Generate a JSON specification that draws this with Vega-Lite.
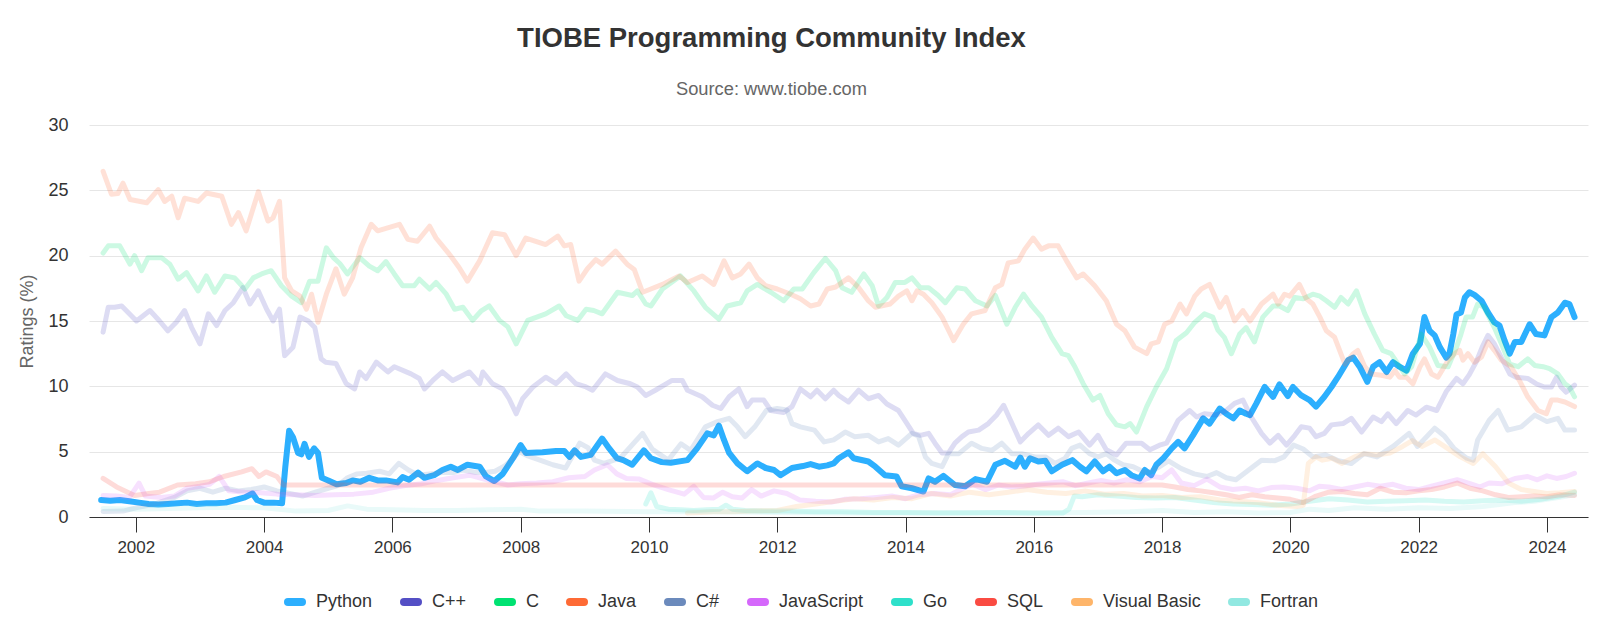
{
"$schema": "https://vega.github.io/schema/vega-lite/v6.json",
"width": 1499,
"height": 392,
"autosize": {"type": "none"},
"padding": {"left": 89, "top": 125, "right": 12, "bottom": 125},
"background": "white",
"config": {"view": {"stroke": null}, "font": "Liberation Sans"},
"title": {"text": "TIOBE Programming Community Index", "subtitle": "Source: www.tiobe.com", "anchor": "middle", "frame": "group", "dx": -67, "offset": 18, "fontSize": 27.5, "fontWeight": "bold", "color": "#333333", "font": "Liberation Sans", "subtitleFont": "Liberation Sans", "subtitleFontSize": 18.3, "subtitleColor": "#666666", "subtitlePadding": 28},
"datasets": {
"python": [
{"lang":"Python","year":2001.46,"pct":1.3},{"lang":"Python","year":2001.6,"pct":1.25},{"lang":"Python","year":2001.75,"pct":1.3},{"lang":"Python","year":2001.9,"pct":1.2},{"lang":"Python","year":2002.05,"pct":1.1},{"lang":"Python","year":2002.2,"pct":1.0},{"lang":"Python","year":2002.35,"pct":0.95},{"lang":"Python","year":2002.5,"pct":1.0},{"lang":"Python","year":2002.65,"pct":1.05},{"lang":"Python","year":2002.8,"pct":1.1},{"lang":"Python","year":2002.95,"pct":1.0},{"lang":"Python","year":2003.1,"pct":1.05},{"lang":"Python","year":2003.25,"pct":1.05},{"lang":"Python","year":2003.4,"pct":1.1},{"lang":"Python","year":2003.55,"pct":1.3},{"lang":"Python","year":2003.7,"pct":1.5},{"lang":"Python","year":2003.82,"pct":1.8},{"lang":"Python","year":2003.89,"pct":1.3},{"lang":"Python","year":2004.0,"pct":1.1},{"lang":"Python","year":2004.15,"pct":1.1},{"lang":"Python","year":2004.28,"pct":1.05},{"lang":"Python","year":2004.33,"pct":3.8},{"lang":"Python","year":2004.39,"pct":6.6},{"lang":"Python","year":2004.45,"pct":6.1},{"lang":"Python","year":2004.53,"pct":4.9},{"lang":"Python","year":2004.58,"pct":4.8},{"lang":"Python","year":2004.63,"pct":5.6},{"lang":"Python","year":2004.7,"pct":4.6},{"lang":"Python","year":2004.78,"pct":5.25},{"lang":"Python","year":2004.84,"pct":4.9},{"lang":"Python","year":2004.9,"pct":3.0},{"lang":"Python","year":2005.0,"pct":2.8},{"lang":"Python","year":2005.13,"pct":2.5},{"lang":"Python","year":2005.28,"pct":2.6},{"lang":"Python","year":2005.38,"pct":2.8},{"lang":"Python","year":2005.5,"pct":2.7},{"lang":"Python","year":2005.64,"pct":3.0},{"lang":"Python","year":2005.77,"pct":2.8},{"lang":"Python","year":2005.9,"pct":2.8},{"lang":"Python","year":2006.08,"pct":2.65},{"lang":"Python","year":2006.16,"pct":3.05},{"lang":"Python","year":2006.26,"pct":2.85},{"lang":"Python","year":2006.4,"pct":3.4},{"lang":"Python","year":2006.5,"pct":3.0},{"lang":"Python","year":2006.65,"pct":3.2},{"lang":"Python","year":2006.78,"pct":3.6},{"lang":"Python","year":2006.91,"pct":3.85},{"lang":"Python","year":2007.02,"pct":3.6},{"lang":"Python","year":2007.17,"pct":4.0},{"lang":"Python","year":2007.36,"pct":3.85},{"lang":"Python","year":2007.46,"pct":3.1},{"lang":"Python","year":2007.59,"pct":2.75},{"lang":"Python","year":2007.72,"pct":3.3},{"lang":"Python","year":2007.88,"pct":4.5},{"lang":"Python","year":2008.0,"pct":5.5},{"lang":"Python","year":2008.08,"pct":4.9},{"lang":"Python","year":2008.34,"pct":4.95},{"lang":"Python","year":2008.55,"pct":5.05},{"lang":"Python","year":2008.68,"pct":5.05},{"lang":"Python","year":2008.76,"pct":4.6},{"lang":"Python","year":2008.84,"pct":5.1},{"lang":"Python","year":2008.94,"pct":4.6},{"lang":"Python","year":2009.09,"pct":4.75},{"lang":"Python","year":2009.27,"pct":6.0},{"lang":"Python","year":2009.38,"pct":5.25},{"lang":"Python","year":2009.5,"pct":4.5},{"lang":"Python","year":2009.6,"pct":4.35},{"lang":"Python","year":2009.74,"pct":4.0},{"lang":"Python","year":2009.92,"pct":5.1},{"lang":"Python","year":2010.03,"pct":4.5},{"lang":"Python","year":2010.2,"pct":4.2},{"lang":"Python","year":2010.34,"pct":4.15},{"lang":"Python","year":2010.6,"pct":4.35},{"lang":"Python","year":2010.75,"pct":5.25},{"lang":"Python","year":2010.91,"pct":6.4},{"lang":"Python","year":2011.01,"pct":6.25},{"lang":"Python","year":2011.09,"pct":7.0},{"lang":"Python","year":2011.17,"pct":5.9},{"lang":"Python","year":2011.25,"pct":4.9},{"lang":"Python","year":2011.38,"pct":4.1},{"lang":"Python","year":2011.53,"pct":3.5},{"lang":"Python","year":2011.69,"pct":4.1},{"lang":"Python","year":2011.82,"pct":3.75},{"lang":"Python","year":2011.95,"pct":3.6},{"lang":"Python","year":2012.05,"pct":3.2},{"lang":"Python","year":2012.23,"pct":3.75},{"lang":"Python","year":2012.4,"pct":3.9},{"lang":"Python","year":2012.52,"pct":4.05},{"lang":"Python","year":2012.65,"pct":3.85},{"lang":"Python","year":2012.78,"pct":3.95},{"lang":"Python","year":2012.88,"pct":4.1},{"lang":"Python","year":2012.96,"pct":4.5},{"lang":"Python","year":2013.11,"pct":4.95},{"lang":"Python","year":2013.19,"pct":4.5},{"lang":"Python","year":2013.42,"pct":4.25},{"lang":"Python","year":2013.53,"pct":3.85},{"lang":"Python","year":2013.68,"pct":3.2},{"lang":"Python","year":2013.86,"pct":3.1},{"lang":"Python","year":2013.94,"pct":2.35},{"lang":"Python","year":2014.1,"pct":2.2},{"lang":"Python","year":2014.28,"pct":1.95},{"lang":"Python","year":2014.36,"pct":2.95},{"lang":"Python","year":2014.46,"pct":2.7},{"lang":"Python","year":2014.59,"pct":3.15},{"lang":"Python","year":2014.77,"pct":2.45},{"lang":"Python","year":2014.93,"pct":2.35},{"lang":"Python","year":2015.09,"pct":2.9},{"lang":"Python","year":2015.27,"pct":2.7},{"lang":"Python","year":2015.4,"pct":4.0},{"lang":"Python","year":2015.55,"pct":4.3},{"lang":"Python","year":2015.71,"pct":3.85},{"lang":"Python","year":2015.79,"pct":4.55},{"lang":"Python","year":2015.86,"pct":3.85},{"lang":"Python","year":2015.94,"pct":4.5},{"lang":"Python","year":2016.07,"pct":4.25},{"lang":"Python","year":2016.18,"pct":4.3},{"lang":"Python","year":2016.28,"pct":3.5},{"lang":"Python","year":2016.44,"pct":4.0},{"lang":"Python","year":2016.6,"pct":4.35},{"lang":"Python","year":2016.72,"pct":3.85},{"lang":"Python","year":2016.82,"pct":3.5},{"lang":"Python","year":2016.95,"pct":4.25},{"lang":"Python","year":2017.08,"pct":3.5},{"lang":"Python","year":2017.18,"pct":3.85},{"lang":"Python","year":2017.29,"pct":3.35},{"lang":"Python","year":2017.42,"pct":3.6},{"lang":"Python","year":2017.52,"pct":3.2},{"lang":"Python","year":2017.65,"pct":2.95},{"lang":"Python","year":2017.73,"pct":3.6},{"lang":"Python","year":2017.83,"pct":3.2},{"lang":"Python","year":2017.91,"pct":4.0},{"lang":"Python","year":2018.02,"pct":4.5},{"lang":"Python","year":2018.15,"pct":5.25},{"lang":"Python","year":2018.25,"pct":5.75},{"lang":"Python","year":2018.35,"pct":5.25},{"lang":"Python","year":2018.48,"pct":6.25},{"lang":"Python","year":2018.64,"pct":7.55},{"lang":"Python","year":2018.74,"pct":7.15},{"lang":"Python","year":2018.9,"pct":8.3},{"lang":"Python","year":2019.0,"pct":7.9},{"lang":"Python","year":2019.11,"pct":7.55},{"lang":"Python","year":2019.21,"pct":8.15},{"lang":"Python","year":2019.31,"pct":7.9},{"lang":"Python","year":2019.37,"pct":7.8},{"lang":"Python","year":2019.47,"pct":8.7},{"lang":"Python","year":2019.6,"pct":9.95},{"lang":"Python","year":2019.73,"pct":9.2},{"lang":"Python","year":2019.83,"pct":10.15},{"lang":"Python","year":2019.96,"pct":9.25},{"lang":"Python","year":2020.04,"pct":9.95},{"lang":"Python","year":2020.17,"pct":9.3},{"lang":"Python","year":2020.3,"pct":8.95},{"lang":"Python","year":2020.4,"pct":8.45},{"lang":"Python","year":2020.53,"pct":9.2},{"lang":"Python","year":2020.64,"pct":9.95},{"lang":"Python","year":2020.74,"pct":10.7},{"lang":"Python","year":2020.9,"pct":12.0},{"lang":"Python","year":2020.98,"pct":12.2},{"lang":"Python","year":2021.08,"pct":11.5},{"lang":"Python","year":2021.2,"pct":10.35},{"lang":"Python","year":2021.29,"pct":11.5},{"lang":"Python","year":2021.39,"pct":11.85},{"lang":"Python","year":2021.5,"pct":11.1},{"lang":"Python","year":2021.6,"pct":11.85},{"lang":"Python","year":2021.7,"pct":11.5},{"lang":"Python","year":2021.81,"pct":11.2},{"lang":"Python","year":2021.91,"pct":12.5},{"lang":"Python","year":2022.02,"pct":13.25},{"lang":"Python","year":2022.09,"pct":15.3},{"lang":"Python","year":2022.17,"pct":14.25},{"lang":"Python","year":2022.25,"pct":13.9},{"lang":"Python","year":2022.33,"pct":13.0},{"lang":"Python","year":2022.43,"pct":12.2},{"lang":"Python","year":2022.48,"pct":12.5},{"lang":"Python","year":2022.54,"pct":14.0},{"lang":"Python","year":2022.59,"pct":15.5},{"lang":"Python","year":2022.66,"pct":15.65},{"lang":"Python","year":2022.72,"pct":16.8},{"lang":"Python","year":2022.79,"pct":17.2},{"lang":"Python","year":2022.87,"pct":17.0},{"lang":"Python","year":2022.98,"pct":16.55},{"lang":"Python","year":2023.08,"pct":15.65},{"lang":"Python","year":2023.18,"pct":14.9},{"lang":"Python","year":2023.26,"pct":14.65},{"lang":"Python","year":2023.34,"pct":13.5},{"lang":"Python","year":2023.42,"pct":12.5},{"lang":"Python","year":2023.5,"pct":13.4},{"lang":"Python","year":2023.6,"pct":13.4},{"lang":"Python","year":2023.73,"pct":14.75},{"lang":"Python","year":2023.83,"pct":14.0},{"lang":"Python","year":2023.96,"pct":13.9},{"lang":"Python","year":2024.07,"pct":15.3},{"lang":"Python","year":2024.17,"pct":15.65},{"lang":"Python","year":2024.28,"pct":16.4},{"lang":"Python","year":2024.35,"pct":16.3},{"lang":"Python","year":2024.43,"pct":15.3}
],
"others": [
{"lang":"C++","year":2001.49,"pct":14.15},{"lang":"C++","year":2001.57,"pct":16.05},{"lang":"C++","year":2001.67,"pct":16.05},{"lang":"C++","year":2001.78,"pct":16.15},{"lang":"C++","year":2001.88,"pct":15.65},{"lang":"C++","year":2002.01,"pct":15.0},{"lang":"C++","year":2002.22,"pct":15.8},{"lang":"C++","year":2002.37,"pct":15.0},{"lang":"C++","year":2002.5,"pct":14.25},{"lang":"C++","year":2002.63,"pct":14.9},{"lang":"C++","year":2002.76,"pct":15.8},{"lang":"C++","year":2002.87,"pct":14.5},{"lang":"C++","year":2003.0,"pct":13.25},{"lang":"C++","year":2003.13,"pct":15.55},{"lang":"C++","year":2003.26,"pct":14.65},{"lang":"C++","year":2003.39,"pct":15.8},{"lang":"C++","year":2003.52,"pct":16.4},{"lang":"C++","year":2003.67,"pct":17.55},{"lang":"C++","year":2003.78,"pct":16.3},{"lang":"C++","year":2003.91,"pct":17.3},{"lang":"C++","year":2004.04,"pct":15.9},{"lang":"C++","year":2004.14,"pct":15.0},{"lang":"C++","year":2004.24,"pct":15.9},{"lang":"C++","year":2004.32,"pct":12.35},{"lang":"C++","year":2004.45,"pct":13.0},{"lang":"C++","year":2004.56,"pct":15.3},{"lang":"C++","year":2004.69,"pct":15.0},{"lang":"C++","year":2004.79,"pct":14.5},{"lang":"C++","year":2004.89,"pct":12.1},{"lang":"C++","year":2004.96,"pct":11.85},{"lang":"C++","year":2005.12,"pct":11.75},{"lang":"C++","year":2005.28,"pct":10.2},{"lang":"C++","year":2005.41,"pct":9.8},{"lang":"C++","year":2005.49,"pct":11.1},{"lang":"C++","year":2005.59,"pct":10.6},{"lang":"C++","year":2005.75,"pct":11.85},{"lang":"C++","year":2005.93,"pct":11.1},{"lang":"C++","year":2006.03,"pct":11.5},{"lang":"C++","year":2006.29,"pct":10.95},{"lang":"C++","year":2006.42,"pct":10.6},{"lang":"C++","year":2006.5,"pct":9.8},{"lang":"C++","year":2006.63,"pct":10.45},{"lang":"C++","year":2006.78,"pct":11.1},{"lang":"C++","year":2006.94,"pct":10.45},{"lang":"C++","year":2007.2,"pct":11.1},{"lang":"C++","year":2007.36,"pct":10.2},{"lang":"C++","year":2007.41,"pct":11.1},{"lang":"C++","year":2007.56,"pct":10.2},{"lang":"C++","year":2007.72,"pct":9.8},{"lang":"C++","year":2007.82,"pct":9.05},{"lang":"C++","year":2007.93,"pct":7.9},{"lang":"C++","year":2008.03,"pct":9.05},{"lang":"C++","year":2008.19,"pct":9.95},{"lang":"C++","year":2008.39,"pct":10.7},{"lang":"C++","year":2008.55,"pct":10.2},{"lang":"C++","year":2008.71,"pct":10.95},{"lang":"C++","year":2008.86,"pct":10.2},{"lang":"C++","year":2009.02,"pct":9.95},{"lang":"C++","year":2009.12,"pct":9.7},{"lang":"C++","year":2009.32,"pct":10.95},{"lang":"C++","year":2009.51,"pct":10.45},{"lang":"C++","year":2009.71,"pct":10.2},{"lang":"C++","year":2009.82,"pct":9.95},{"lang":"C++","year":2009.95,"pct":9.3},{"lang":"C++","year":2010.1,"pct":9.7},{"lang":"C++","year":2010.36,"pct":10.45},{"lang":"C++","year":2010.52,"pct":10.45},{"lang":"C++","year":2010.6,"pct":9.7},{"lang":"C++","year":2010.83,"pct":9.2},{"lang":"C++","year":2010.99,"pct":8.55},{"lang":"C++","year":2011.12,"pct":8.3},{"lang":"C++","year":2011.25,"pct":9.2},{"lang":"C++","year":2011.4,"pct":9.8},{"lang":"C++","year":2011.53,"pct":8.45},{"lang":"C++","year":2011.61,"pct":8.95},{"lang":"C++","year":2011.79,"pct":8.95},{"lang":"C++","year":2011.9,"pct":8.15},{"lang":"C++","year":2012.1,"pct":8.0},{"lang":"C++","year":2012.23,"pct":8.45},{"lang":"C++","year":2012.36,"pct":9.8},{"lang":"C++","year":2012.52,"pct":9.2},{"lang":"C++","year":2012.62,"pct":9.7},{"lang":"C++","year":2012.75,"pct":9.05},{"lang":"C++","year":2012.88,"pct":9.7},{"lang":"C++","year":2012.96,"pct":9.3},{"lang":"C++","year":2013.11,"pct":8.8},{"lang":"C++","year":2013.27,"pct":9.7},{"lang":"C++","year":2013.42,"pct":9.05},{"lang":"C++","year":2013.58,"pct":9.3},{"lang":"C++","year":2013.71,"pct":8.65},{"lang":"C++","year":2013.89,"pct":8.15},{"lang":"C++","year":2013.99,"pct":7.4},{"lang":"C++","year":2014.12,"pct":6.4},{"lang":"C++","year":2014.23,"pct":6.25},{"lang":"C++","year":2014.36,"pct":6.4},{"lang":"C++","year":2014.46,"pct":5.65},{"lang":"C++","year":2014.57,"pct":4.9},{"lang":"C++","year":2014.67,"pct":4.9},{"lang":"C++","year":2014.77,"pct":5.65},{"lang":"C++","year":2014.88,"pct":6.15},{"lang":"C++","year":2014.98,"pct":6.5},{"lang":"C++","year":2015.14,"pct":6.65},{"lang":"C++","year":2015.29,"pct":7.15},{"lang":"C++","year":2015.42,"pct":7.8},{"lang":"C++","year":2015.53,"pct":8.55},{"lang":"C++","year":2015.66,"pct":7.15},{"lang":"C++","year":2015.79,"pct":5.75},{"lang":"C++","year":2015.92,"pct":6.4},{"lang":"C++","year":2016.07,"pct":7.05},{"lang":"C++","year":2016.23,"pct":6.25},{"lang":"C++","year":2016.38,"pct":6.8},{"lang":"C++","year":2016.54,"pct":6.15},{"lang":"C++","year":2016.7,"pct":6.5},{"lang":"C++","year":2016.87,"pct":5.5},{"lang":"C++","year":2017.0,"pct":6.25},{"lang":"C++","year":2017.13,"pct":5.15},{"lang":"C++","year":2017.29,"pct":4.75},{"lang":"C++","year":2017.44,"pct":5.65},{"lang":"C++","year":2017.68,"pct":5.65},{"lang":"C++","year":2017.81,"pct":5.15},{"lang":"C++","year":2017.96,"pct":5.5},{"lang":"C++","year":2018.07,"pct":5.65},{"lang":"C++","year":2018.25,"pct":7.4},{"lang":"C++","year":2018.43,"pct":8.15},{"lang":"C++","year":2018.54,"pct":7.65},{"lang":"C++","year":2018.66,"pct":7.9},{"lang":"C++","year":2018.85,"pct":7.8},{"lang":"C++","year":2019.0,"pct":8.15},{"lang":"C++","year":2019.13,"pct":8.7},{"lang":"C++","year":2019.26,"pct":8.95},{"lang":"C++","year":2019.39,"pct":7.65},{"lang":"C++","year":2019.55,"pct":6.4},{"lang":"C++","year":2019.68,"pct":5.65},{"lang":"C++","year":2019.81,"pct":6.25},{"lang":"C++","year":2019.94,"pct":5.5},{"lang":"C++","year":2020.07,"pct":6.25},{"lang":"C++","year":2020.17,"pct":6.9},{"lang":"C++","year":2020.3,"pct":6.8},{"lang":"C++","year":2020.4,"pct":6.15},{"lang":"C++","year":2020.53,"pct":6.4},{"lang":"C++","year":2020.64,"pct":7.05},{"lang":"C++","year":2020.82,"pct":7.15},{"lang":"C++","year":2020.95,"pct":7.55},{"lang":"C++","year":2021.11,"pct":6.5},{"lang":"C++","year":2021.29,"pct":7.65},{"lang":"C++","year":2021.42,"pct":7.3},{"lang":"C++","year":2021.52,"pct":7.9},{"lang":"C++","year":2021.65,"pct":7.15},{"lang":"C++","year":2021.83,"pct":8.15},{"lang":"C++","year":2021.96,"pct":7.8},{"lang":"C++","year":2022.12,"pct":8.4},{"lang":"C++","year":2022.28,"pct":8.15},{"lang":"C++","year":2022.43,"pct":9.6},{"lang":"C++","year":2022.59,"pct":10.6},{"lang":"C++","year":2022.69,"pct":10.2},{"lang":"C++","year":2022.79,"pct":10.9},{"lang":"C++","year":2022.9,"pct":11.9},{"lang":"C++","year":2022.99,"pct":13.0},{"lang":"C++","year":2023.08,"pct":13.9},{"lang":"C++","year":2023.18,"pct":13.25},{"lang":"C++","year":2023.31,"pct":12.0},{"lang":"C++","year":2023.42,"pct":10.95},{"lang":"C++","year":2023.52,"pct":10.7},{"lang":"C++","year":2023.7,"pct":10.6},{"lang":"C++","year":2023.83,"pct":10.2},{"lang":"C++","year":2023.96,"pct":9.95},{"lang":"C++","year":2024.07,"pct":9.95},{"lang":"C++","year":2024.15,"pct":10.7},{"lang":"C++","year":2024.22,"pct":9.95},{"lang":"C++","year":2024.3,"pct":9.55},{"lang":"C++","year":2024.43,"pct":10.1},
{"lang":"C","year":2001.49,"pct":20.2},{"lang":"C","year":2001.57,"pct":20.75},{"lang":"C","year":2001.75,"pct":20.75},{"lang":"C","year":2001.91,"pct":19.35},{"lang":"C","year":2001.98,"pct":20.0},{"lang":"C","year":2002.09,"pct":18.85},{"lang":"C","year":2002.19,"pct":19.85},{"lang":"C","year":2002.4,"pct":19.85},{"lang":"C","year":2002.53,"pct":19.35},{"lang":"C","year":2002.66,"pct":18.2},{"lang":"C","year":2002.79,"pct":18.7},{"lang":"C","year":2002.97,"pct":17.3},{"lang":"C","year":2003.1,"pct":18.45},{"lang":"C","year":2003.23,"pct":17.2},{"lang":"C","year":2003.39,"pct":18.45},{"lang":"C","year":2003.54,"pct":18.3},{"lang":"C","year":2003.7,"pct":17.45},{"lang":"C","year":2003.83,"pct":18.3},{"lang":"C","year":2003.96,"pct":18.6},{"lang":"C","year":2004.11,"pct":18.85},{"lang":"C","year":2004.27,"pct":17.7},{"lang":"C","year":2004.43,"pct":16.9},{"lang":"C","year":2004.58,"pct":16.4},{"lang":"C","year":2004.71,"pct":18.05},{"lang":"C","year":2004.84,"pct":18.05},{"lang":"C","year":2004.97,"pct":20.6},{"lang":"C","year":2005.08,"pct":19.85},{"lang":"C","year":2005.18,"pct":19.4},{"lang":"C","year":2005.3,"pct":18.6},{"lang":"C","year":2005.49,"pct":19.85},{"lang":"C","year":2005.64,"pct":19.2},{"lang":"C","year":2005.77,"pct":18.85},{"lang":"C","year":2005.9,"pct":19.55},{"lang":"C","year":2006.03,"pct":18.6},{"lang":"C","year":2006.16,"pct":17.7},{"lang":"C","year":2006.34,"pct":17.7},{"lang":"C","year":2006.42,"pct":18.2},{"lang":"C","year":2006.58,"pct":17.45},{"lang":"C","year":2006.68,"pct":17.95},{"lang":"C","year":2006.84,"pct":17.05},{"lang":"C","year":2006.97,"pct":15.9},{"lang":"C","year":2007.1,"pct":16.05},{"lang":"C","year":2007.25,"pct":15.05},{"lang":"C","year":2007.38,"pct":15.75},{"lang":"C","year":2007.51,"pct":16.15},{"lang":"C","year":2007.67,"pct":15.05},{"lang":"C","year":2007.8,"pct":14.55},{"lang":"C","year":2007.93,"pct":13.25},{"lang":"C","year":2008.11,"pct":15.05},{"lang":"C","year":2008.39,"pct":15.55},{"lang":"C","year":2008.6,"pct":16.15},{"lang":"C","year":2008.71,"pct":15.4},{"lang":"C","year":2008.89,"pct":15.05},{"lang":"C","year":2009.02,"pct":15.9},{"lang":"C","year":2009.14,"pct":15.8},{"lang":"C","year":2009.27,"pct":15.55},{"lang":"C","year":2009.51,"pct":17.2},{"lang":"C","year":2009.74,"pct":16.95},{"lang":"C","year":2009.82,"pct":17.3},{"lang":"C","year":2009.95,"pct":16.3},{"lang":"C","year":2010.03,"pct":16.15},{"lang":"C","year":2010.21,"pct":17.45},{"lang":"C","year":2010.49,"pct":18.45},{"lang":"C","year":2010.7,"pct":17.3},{"lang":"C","year":2010.88,"pct":16.05},{"lang":"C","year":2011.09,"pct":15.15},{"lang":"C","year":2011.22,"pct":16.15},{"lang":"C","year":2011.43,"pct":16.4},{"lang":"C","year":2011.53,"pct":17.3},{"lang":"C","year":2011.69,"pct":17.8},{"lang":"C","year":2011.9,"pct":17.2},{"lang":"C","year":2012.1,"pct":16.55},{"lang":"C","year":2012.26,"pct":17.45},{"lang":"C","year":2012.39,"pct":17.45},{"lang":"C","year":2012.57,"pct":18.7},{"lang":"C","year":2012.75,"pct":19.8},{"lang":"C","year":2012.91,"pct":18.85},{"lang":"C","year":2013.01,"pct":17.55},{"lang":"C","year":2013.16,"pct":17.2},{"lang":"C","year":2013.35,"pct":18.6},{"lang":"C","year":2013.48,"pct":17.7},{"lang":"C","year":2013.58,"pct":16.15},{"lang":"C","year":2013.71,"pct":16.8},{"lang":"C","year":2013.84,"pct":17.95},{"lang":"C","year":2013.99,"pct":17.95},{"lang":"C","year":2014.1,"pct":18.3},{"lang":"C","year":2014.23,"pct":17.55},{"lang":"C","year":2014.36,"pct":17.55},{"lang":"C","year":2014.51,"pct":16.95},{"lang":"C","year":2014.62,"pct":16.4},{"lang":"C","year":2014.8,"pct":17.55},{"lang":"C","year":2014.93,"pct":17.45},{"lang":"C","year":2015.09,"pct":16.55},{"lang":"C","year":2015.27,"pct":16.15},{"lang":"C","year":2015.4,"pct":16.95},{"lang":"C","year":2015.58,"pct":14.75},{"lang":"C","year":2015.71,"pct":16.05},{"lang":"C","year":2015.84,"pct":17.05},{"lang":"C","year":2015.97,"pct":16.15},{"lang":"C","year":2016.12,"pct":15.3},{"lang":"C","year":2016.28,"pct":13.75},{"lang":"C","year":2016.44,"pct":12.5},{"lang":"C","year":2016.54,"pct":12.35},{"lang":"C","year":2016.64,"pct":11.5},{"lang":"C","year":2016.77,"pct":10.2},{"lang":"C","year":2016.92,"pct":8.95},{"lang":"C","year":2017.03,"pct":9.3},{"lang":"C","year":2017.16,"pct":7.9},{"lang":"C","year":2017.29,"pct":7.05},{"lang":"C","year":2017.42,"pct":6.9},{"lang":"C","year":2017.5,"pct":7.15},{"lang":"C","year":2017.6,"pct":6.5},{"lang":"C","year":2017.76,"pct":8.45},{"lang":"C","year":2017.91,"pct":9.95},{"lang":"C","year":2018.07,"pct":11.35},{"lang":"C","year":2018.22,"pct":13.5},{"lang":"C","year":2018.38,"pct":14.1},{"lang":"C","year":2018.51,"pct":14.9},{"lang":"C","year":2018.66,"pct":15.55},{"lang":"C","year":2018.79,"pct":15.3},{"lang":"C","year":2018.87,"pct":14.3},{"lang":"C","year":2018.97,"pct":13.75},{"lang":"C","year":2019.08,"pct":12.5},{"lang":"C","year":2019.21,"pct":14.0},{"lang":"C","year":2019.31,"pct":14.5},{"lang":"C","year":2019.44,"pct":13.4},{"lang":"C","year":2019.57,"pct":15.3},{"lang":"C","year":2019.73,"pct":16.15},{"lang":"C","year":2019.83,"pct":16.15},{"lang":"C","year":2019.96,"pct":15.8},{"lang":"C","year":2020.07,"pct":16.8},{"lang":"C","year":2020.2,"pct":16.7},{"lang":"C","year":2020.35,"pct":17.05},{"lang":"C","year":2020.46,"pct":16.9},{"lang":"C","year":2020.56,"pct":16.55},{"lang":"C","year":2020.69,"pct":16.05},{"lang":"C","year":2020.79,"pct":16.8},{"lang":"C","year":2020.9,"pct":16.3},{"lang":"C","year":2021.03,"pct":17.3},{"lang":"C","year":2021.16,"pct":15.55},{"lang":"C","year":2021.31,"pct":14.0},{"lang":"C","year":2021.44,"pct":12.75},{"lang":"C","year":2021.57,"pct":12.5},{"lang":"C","year":2021.68,"pct":11.7},{"lang":"C","year":2021.78,"pct":10.95},{"lang":"C","year":2021.89,"pct":11.5},{"lang":"C","year":2022.04,"pct":14.0},{"lang":"C","year":2022.17,"pct":13.0},{"lang":"C","year":2022.3,"pct":11.6},{"lang":"C","year":2022.46,"pct":11.5},{"lang":"C","year":2022.59,"pct":13.0},{"lang":"C","year":2022.66,"pct":14.0},{"lang":"C","year":2022.74,"pct":15.3},{"lang":"C","year":2022.84,"pct":15.3},{"lang":"C","year":2022.92,"pct":16.3},{"lang":"C","year":2023.02,"pct":16.05},{"lang":"C","year":2023.18,"pct":14.5},{"lang":"C","year":2023.29,"pct":13.25},{"lang":"C","year":2023.42,"pct":11.7},{"lang":"C","year":2023.55,"pct":11.5},{"lang":"C","year":2023.7,"pct":12.1},{"lang":"C","year":2023.81,"pct":11.6},{"lang":"C","year":2023.94,"pct":11.5},{"lang":"C","year":2024.04,"pct":11.35},{"lang":"C","year":2024.17,"pct":10.95},{"lang":"C","year":2024.28,"pct":10.2},{"lang":"C","year":2024.35,"pct":9.95},{"lang":"C","year":2024.43,"pct":9.2},
{"lang":"Java","year":2001.49,"pct":26.45},{"lang":"Java","year":2001.62,"pct":24.7},{"lang":"Java","year":2001.72,"pct":24.75},{"lang":"Java","year":2001.8,"pct":25.55},{"lang":"Java","year":2001.91,"pct":24.3},{"lang":"Java","year":2002.17,"pct":24.05},{"lang":"Java","year":2002.35,"pct":25.05},{"lang":"Java","year":2002.45,"pct":24.15},{"lang":"Java","year":2002.56,"pct":24.55},{"lang":"Java","year":2002.66,"pct":22.9},{"lang":"Java","year":2002.76,"pct":24.4},{"lang":"Java","year":2002.97,"pct":24.15},{"lang":"Java","year":2003.1,"pct":24.8},{"lang":"Java","year":2003.34,"pct":24.55},{"lang":"Java","year":2003.49,"pct":22.4},{"lang":"Java","year":2003.6,"pct":23.3},{"lang":"Java","year":2003.72,"pct":21.9},{"lang":"Java","year":2003.91,"pct":24.9},{"lang":"Java","year":2004.06,"pct":22.65},{"lang":"Java","year":2004.14,"pct":22.9},{"lang":"Java","year":2004.24,"pct":24.15},{"lang":"Java","year":2004.32,"pct":18.3},{"lang":"Java","year":2004.43,"pct":17.3},{"lang":"Java","year":2004.56,"pct":16.9},{"lang":"Java","year":2004.66,"pct":15.9},{"lang":"Java","year":2004.74,"pct":17.05},{"lang":"Java","year":2004.84,"pct":14.9},{"lang":"Java","year":2004.97,"pct":17.05},{"lang":"Java","year":2005.12,"pct":19.0},{"lang":"Java","year":2005.25,"pct":17.05},{"lang":"Java","year":2005.38,"pct":18.3},{"lang":"Java","year":2005.51,"pct":20.6},{"lang":"Java","year":2005.67,"pct":22.4},{"lang":"Java","year":2005.77,"pct":21.9},{"lang":"Java","year":2006.11,"pct":22.4},{"lang":"Java","year":2006.24,"pct":21.25},{"lang":"Java","year":2006.39,"pct":21.1},{"lang":"Java","year":2006.58,"pct":22.25},{"lang":"Java","year":2006.68,"pct":21.35},{"lang":"Java","year":2006.89,"pct":20.1},{"lang":"Java","year":2007.04,"pct":19.1},{"lang":"Java","year":2007.17,"pct":18.05},{"lang":"Java","year":2007.36,"pct":19.6},{"lang":"Java","year":2007.56,"pct":21.75},{"lang":"Java","year":2007.75,"pct":21.6},{"lang":"Java","year":2007.93,"pct":20.0},{"lang":"Java","year":2008.08,"pct":21.35},{"lang":"Java","year":2008.39,"pct":20.85},{"lang":"Java","year":2008.58,"pct":21.5},{"lang":"Java","year":2008.68,"pct":20.75},{"lang":"Java","year":2008.78,"pct":20.85},{"lang":"Java","year":2008.91,"pct":18.05},{"lang":"Java","year":2009.04,"pct":19.0},{"lang":"Java","year":2009.17,"pct":19.7},{"lang":"Java","year":2009.27,"pct":19.35},{"lang":"Java","year":2009.48,"pct":20.35},{"lang":"Java","year":2009.66,"pct":19.35},{"lang":"Java","year":2009.77,"pct":18.95},{"lang":"Java","year":2009.9,"pct":17.2},{"lang":"Java","year":2010.03,"pct":17.45},{"lang":"Java","year":2010.21,"pct":17.8},{"lang":"Java","year":2010.47,"pct":18.45},{"lang":"Java","year":2010.6,"pct":17.95},{"lang":"Java","year":2010.83,"pct":18.45},{"lang":"Java","year":2011.01,"pct":17.8},{"lang":"Java","year":2011.17,"pct":19.6},{"lang":"Java","year":2011.3,"pct":18.3},{"lang":"Java","year":2011.43,"pct":18.6},{"lang":"Java","year":2011.56,"pct":19.35},{"lang":"Java","year":2011.69,"pct":18.3},{"lang":"Java","year":2011.82,"pct":17.7},{"lang":"Java","year":2012.0,"pct":17.45},{"lang":"Java","year":2012.21,"pct":17.05},{"lang":"Java","year":2012.36,"pct":16.7},{"lang":"Java","year":2012.52,"pct":16.15},{"lang":"Java","year":2012.65,"pct":16.3},{"lang":"Java","year":2012.78,"pct":17.45},{"lang":"Java","year":2012.91,"pct":17.6},{"lang":"Java","year":2013.11,"pct":18.3},{"lang":"Java","year":2013.27,"pct":17.55},{"lang":"Java","year":2013.42,"pct":16.55},{"lang":"Java","year":2013.53,"pct":16.05},{"lang":"Java","year":2013.76,"pct":16.3},{"lang":"Java","year":2013.89,"pct":16.9},{"lang":"Java","year":2014.02,"pct":17.3},{"lang":"Java","year":2014.1,"pct":16.55},{"lang":"Java","year":2014.18,"pct":17.3},{"lang":"Java","year":2014.28,"pct":17.05},{"lang":"Java","year":2014.41,"pct":16.4},{"lang":"Java","year":2014.57,"pct":15.3},{"lang":"Java","year":2014.75,"pct":13.5},{"lang":"Java","year":2014.9,"pct":14.75},{"lang":"Java","year":2015.03,"pct":15.55},{"lang":"Java","year":2015.24,"pct":15.8},{"lang":"Java","year":2015.4,"pct":17.55},{"lang":"Java","year":2015.5,"pct":17.8},{"lang":"Java","year":2015.6,"pct":19.45},{"lang":"Java","year":2015.76,"pct":19.6},{"lang":"Java","year":2015.86,"pct":20.5},{"lang":"Java","year":2015.99,"pct":21.35},{"lang":"Java","year":2016.12,"pct":20.5},{"lang":"Java","year":2016.23,"pct":20.75},{"lang":"Java","year":2016.38,"pct":20.75},{"lang":"Java","year":2016.51,"pct":19.6},{"lang":"Java","year":2016.67,"pct":18.3},{"lang":"Java","year":2016.77,"pct":18.6},{"lang":"Java","year":2016.95,"pct":17.7},{"lang":"Java","year":2017.13,"pct":16.55},{"lang":"Java","year":2017.29,"pct":14.75},{"lang":"Java","year":2017.42,"pct":14.25},{"lang":"Java","year":2017.57,"pct":13.0},{"lang":"Java","year":2017.76,"pct":12.5},{"lang":"Java","year":2017.83,"pct":13.25},{"lang":"Java","year":2017.94,"pct":13.4},{"lang":"Java","year":2018.04,"pct":14.75},{"lang":"Java","year":2018.15,"pct":15.0},{"lang":"Java","year":2018.28,"pct":16.3},{"lang":"Java","year":2018.38,"pct":15.55},{"lang":"Java","year":2018.51,"pct":16.9},{"lang":"Java","year":2018.61,"pct":17.45},{"lang":"Java","year":2018.74,"pct":17.8},{"lang":"Java","year":2018.9,"pct":16.05},{"lang":"Java","year":2019.0,"pct":16.8},{"lang":"Java","year":2019.13,"pct":15.0},{"lang":"Java","year":2019.26,"pct":15.8},{"lang":"Java","year":2019.37,"pct":15.0},{"lang":"Java","year":2019.55,"pct":16.3},{"lang":"Java","year":2019.73,"pct":17.05},{"lang":"Java","year":2019.81,"pct":16.3},{"lang":"Java","year":2019.91,"pct":17.05},{"lang":"Java","year":2019.99,"pct":16.9},{"lang":"Java","year":2020.14,"pct":17.8},{"lang":"Java","year":2020.25,"pct":16.7},{"lang":"Java","year":2020.35,"pct":16.3},{"lang":"Java","year":2020.46,"pct":15.3},{"lang":"Java","year":2020.56,"pct":14.25},{"lang":"Java","year":2020.69,"pct":13.75},{"lang":"Java","year":2020.85,"pct":11.7},{"lang":"Java","year":2020.98,"pct":12.5},{"lang":"Java","year":2021.05,"pct":12.75},{"lang":"Java","year":2021.16,"pct":11.5},{"lang":"Java","year":2021.26,"pct":10.95},{"lang":"Java","year":2021.42,"pct":10.85},{"lang":"Java","year":2021.55,"pct":10.7},{"lang":"Java","year":2021.63,"pct":11.2},{"lang":"Java","year":2021.7,"pct":10.7},{"lang":"Java","year":2021.81,"pct":10.7},{"lang":"Java","year":2021.91,"pct":10.2},{"lang":"Java","year":2022.02,"pct":11.5},{"lang":"Java","year":2022.09,"pct":12.1},{"lang":"Java","year":2022.2,"pct":10.95},{"lang":"Java","year":2022.3,"pct":10.7},{"lang":"Java","year":2022.46,"pct":12.0},{"lang":"Java","year":2022.56,"pct":12.5},{"lang":"Java","year":2022.64,"pct":12.75},{"lang":"Java","year":2022.69,"pct":12.0},{"lang":"Java","year":2022.77,"pct":12.5},{"lang":"Java","year":2022.87,"pct":11.85},{"lang":"Java","year":2022.98,"pct":12.25},{"lang":"Java","year":2023.08,"pct":13.4},{"lang":"Java","year":2023.18,"pct":12.75},{"lang":"Java","year":2023.29,"pct":12.0},{"lang":"Java","year":2023.44,"pct":11.5},{"lang":"Java","year":2023.57,"pct":10.45},{"lang":"Java","year":2023.7,"pct":9.2},{"lang":"Java","year":2023.86,"pct":8.15},{"lang":"Java","year":2023.99,"pct":7.9},{"lang":"Java","year":2024.07,"pct":8.95},{"lang":"Java","year":2024.17,"pct":8.95},{"lang":"Java","year":2024.28,"pct":8.8},{"lang":"Java","year":2024.43,"pct":8.45},
{"lang":"C#","year":2001.49,"pct":0.43},{"lang":"C#","year":2001.8,"pct":0.45},{"lang":"C#","year":2002.0,"pct":0.7},{"lang":"C#","year":2002.3,"pct":1.0},{"lang":"C#","year":2002.6,"pct":1.5},{"lang":"C#","year":2002.8,"pct":2.0},{"lang":"C#","year":2003.0,"pct":2.2},{"lang":"C#","year":2003.2,"pct":1.9},{"lang":"C#","year":2003.4,"pct":2.2},{"lang":"C#","year":2003.6,"pct":2.0},{"lang":"C#","year":2003.8,"pct":2.1},{"lang":"C#","year":2004.0,"pct":2.3},{"lang":"C#","year":2004.2,"pct":2.0},{"lang":"C#","year":2004.4,"pct":1.8},{"lang":"C#","year":2004.6,"pct":1.6},{"lang":"C#","year":2004.8,"pct":1.9},{"lang":"C#","year":2005.0,"pct":2.2},{"lang":"C#","year":2005.15,"pct":2.4},{"lang":"C#","year":2005.3,"pct":3.0},{"lang":"C#","year":2005.45,"pct":3.3},{"lang":"C#","year":2005.6,"pct":3.35},{"lang":"C#","year":2005.8,"pct":3.5},{"lang":"C#","year":2005.95,"pct":3.3},{"lang":"C#","year":2006.1,"pct":4.1},{"lang":"C#","year":2006.25,"pct":3.6},{"lang":"C#","year":2006.4,"pct":3.2},{"lang":"C#","year":2006.58,"pct":3.3},{"lang":"C#","year":2006.78,"pct":3.4},{"lang":"C#","year":2006.95,"pct":3.4},{"lang":"C#","year":2007.1,"pct":3.6},{"lang":"C#","year":2007.3,"pct":3.4},{"lang":"C#","year":2007.45,"pct":3.4},{"lang":"C#","year":2007.6,"pct":3.5},{"lang":"C#","year":2007.75,"pct":3.9},{"lang":"C#","year":2007.85,"pct":4.35},{"lang":"C#","year":2007.98,"pct":5.0},{"lang":"C#","year":2008.1,"pct":4.7},{"lang":"C#","year":2008.3,"pct":4.35},{"lang":"C#","year":2008.5,"pct":4.0},{"lang":"C#","year":2008.7,"pct":3.75},{"lang":"C#","year":2008.8,"pct":4.6},{"lang":"C#","year":2008.92,"pct":5.65},{"lang":"C#","year":2009.05,"pct":5.3},{"lang":"C#","year":2009.15,"pct":4.35},{"lang":"C#","year":2009.3,"pct":4.1},{"lang":"C#","year":2009.55,"pct":4.5},{"lang":"C#","year":2009.9,"pct":6.4},{"lang":"C#","year":2010.05,"pct":5.2},{"lang":"C#","year":2010.3,"pct":4.35},{"lang":"C#","year":2010.5,"pct":5.6},{"lang":"C#","year":2010.65,"pct":5.1},{"lang":"C#","year":2010.88,"pct":6.9},{"lang":"C#","year":2011.07,"pct":7.3},{"lang":"C#","year":2011.25,"pct":7.55},{"lang":"C#","year":2011.38,"pct":6.9},{"lang":"C#","year":2011.5,"pct":6.15},{"lang":"C#","year":2011.65,"pct":6.9},{"lang":"C#","year":2011.83,"pct":8.15},{"lang":"C#","year":2012.0,"pct":8.3},{"lang":"C#","year":2012.15,"pct":8.2},{"lang":"C#","year":2012.23,"pct":7.15},{"lang":"C#","year":2012.36,"pct":6.9},{"lang":"C#","year":2012.58,"pct":6.65},{"lang":"C#","year":2012.73,"pct":5.75},{"lang":"C#","year":2012.88,"pct":5.9},{"lang":"C#","year":2013.06,"pct":6.5},{"lang":"C#","year":2013.21,"pct":6.15},{"lang":"C#","year":2013.42,"pct":6.25},{"lang":"C#","year":2013.58,"pct":5.75},{"lang":"C#","year":2013.73,"pct":6.0},{"lang":"C#","year":2013.89,"pct":5.5},{"lang":"C#","year":2014.1,"pct":6.4},{"lang":"C#","year":2014.2,"pct":6.2},{"lang":"C#","year":2014.31,"pct":4.6},{"lang":"C#","year":2014.41,"pct":4.1},{"lang":"C#","year":2014.57,"pct":3.85},{"lang":"C#","year":2014.67,"pct":4.85},{"lang":"C#","year":2014.83,"pct":4.85},{"lang":"C#","year":2015.03,"pct":5.65},{"lang":"C#","year":2015.19,"pct":5.25},{"lang":"C#","year":2015.35,"pct":5.1},{"lang":"C#","year":2015.5,"pct":5.65},{"lang":"C#","year":2015.66,"pct":4.85},{"lang":"C#","year":2015.81,"pct":4.85},{"lang":"C#","year":2016.02,"pct":4.6},{"lang":"C#","year":2016.18,"pct":4.6},{"lang":"C#","year":2016.33,"pct":4.1},{"lang":"C#","year":2016.49,"pct":4.5},{"lang":"C#","year":2016.59,"pct":5.25},{"lang":"C#","year":2016.72,"pct":5.5},{"lang":"C#","year":2016.87,"pct":4.85},{"lang":"C#","year":2017.0,"pct":4.6},{"lang":"C#","year":2017.13,"pct":4.85},{"lang":"C#","year":2017.26,"pct":4.35},{"lang":"C#","year":2017.39,"pct":4.0},{"lang":"C#","year":2017.55,"pct":3.85},{"lang":"C#","year":2017.76,"pct":3.35},{"lang":"C#","year":2017.96,"pct":3.85},{"lang":"C#","year":2018.1,"pct":4.3},{"lang":"C#","year":2018.3,"pct":3.7},{"lang":"C#","year":2018.5,"pct":3.3},{"lang":"C#","year":2018.7,"pct":3.1},{"lang":"C#","year":2018.85,"pct":3.4},{"lang":"C#","year":2019.0,"pct":3.0},{"lang":"C#","year":2019.15,"pct":2.85},{"lang":"C#","year":2019.35,"pct":3.6},{"lang":"C#","year":2019.55,"pct":4.35},{"lang":"C#","year":2019.75,"pct":4.3},{"lang":"C#","year":2019.9,"pct":4.6},{"lang":"C#","year":2020.05,"pct":5.5},{"lang":"C#","year":2020.2,"pct":5.2},{"lang":"C#","year":2020.35,"pct":4.6},{"lang":"C#","year":2020.55,"pct":4.75},{"lang":"C#","year":2020.75,"pct":4.3},{"lang":"C#","year":2020.95,"pct":4.1},{"lang":"C#","year":2021.15,"pct":4.85},{"lang":"C#","year":2021.35,"pct":4.6},{"lang":"C#","year":2021.6,"pct":5.4},{"lang":"C#","year":2021.85,"pct":6.4},{"lang":"C#","year":2021.98,"pct":5.4},{"lang":"C#","year":2022.25,"pct":6.8},{"lang":"C#","year":2022.4,"pct":6.2},{"lang":"C#","year":2022.55,"pct":5.25},{"lang":"C#","year":2022.75,"pct":4.5},{"lang":"C#","year":2022.85,"pct":4.35},{"lang":"C#","year":2022.92,"pct":5.9},{"lang":"C#","year":2023.1,"pct":7.4},{"lang":"C#","year":2023.24,"pct":8.15},{"lang":"C#","year":2023.39,"pct":6.65},{"lang":"C#","year":2023.6,"pct":6.9},{"lang":"C#","year":2023.81,"pct":7.8},{"lang":"C#","year":2024.0,"pct":7.3},{"lang":"C#","year":2024.17,"pct":7.55},{"lang":"C#","year":2024.28,"pct":6.65},{"lang":"C#","year":2024.43,"pct":6.65},
{"lang":"JavaScript","year":2001.49,"pct":1.65},{"lang":"JavaScript","year":2001.7,"pct":1.6},{"lang":"JavaScript","year":2001.9,"pct":1.5},{"lang":"JavaScript","year":2002.05,"pct":2.6},{"lang":"JavaScript","year":2002.15,"pct":1.6},{"lang":"JavaScript","year":2002.4,"pct":1.5},{"lang":"JavaScript","year":2002.6,"pct":1.6},{"lang":"JavaScript","year":2002.8,"pct":2.2},{"lang":"JavaScript","year":2003.0,"pct":2.35},{"lang":"JavaScript","year":2003.15,"pct":2.5},{"lang":"JavaScript","year":2003.3,"pct":3.1},{"lang":"JavaScript","year":2003.45,"pct":2.0},{"lang":"JavaScript","year":2003.7,"pct":1.9},{"lang":"JavaScript","year":2003.95,"pct":1.85},{"lang":"JavaScript","year":2004.2,"pct":1.75},{"lang":"JavaScript","year":2004.5,"pct":1.7},{"lang":"JavaScript","year":2004.8,"pct":1.65},{"lang":"JavaScript","year":2005.1,"pct":1.7},{"lang":"JavaScript","year":2005.4,"pct":1.75},{"lang":"JavaScript","year":2005.7,"pct":1.9},{"lang":"JavaScript","year":2005.95,"pct":2.2},{"lang":"JavaScript","year":2006.2,"pct":2.4},{"lang":"JavaScript","year":2006.45,"pct":2.55},{"lang":"JavaScript","year":2006.7,"pct":2.8},{"lang":"JavaScript","year":2006.95,"pct":3.0},{"lang":"JavaScript","year":2007.2,"pct":3.2},{"lang":"JavaScript","year":2007.4,"pct":2.95},{"lang":"JavaScript","year":2007.6,"pct":2.7},{"lang":"JavaScript","year":2007.8,"pct":2.45},{"lang":"JavaScript","year":2008.0,"pct":2.55},{"lang":"JavaScript","year":2008.25,"pct":2.6},{"lang":"JavaScript","year":2008.5,"pct":2.7},{"lang":"JavaScript","year":2008.75,"pct":3.0},{"lang":"JavaScript","year":2009.0,"pct":3.1},{"lang":"JavaScript","year":2009.15,"pct":3.6},{"lang":"JavaScript","year":2009.35,"pct":4.0},{"lang":"JavaScript","year":2009.5,"pct":3.3},{"lang":"JavaScript","year":2009.65,"pct":2.95},{"lang":"JavaScript","year":2009.85,"pct":2.9},{"lang":"JavaScript","year":2010.05,"pct":2.5},{"lang":"JavaScript","year":2010.3,"pct":2.1},{"lang":"JavaScript","year":2010.55,"pct":1.75},{"lang":"JavaScript","year":2010.7,"pct":2.35},{"lang":"JavaScript","year":2010.85,"pct":1.5},{"lang":"JavaScript","year":2011.0,"pct":1.45},{"lang":"JavaScript","year":2011.15,"pct":1.9},{"lang":"JavaScript","year":2011.3,"pct":1.55},{"lang":"JavaScript","year":2011.45,"pct":1.45},{"lang":"JavaScript","year":2011.6,"pct":2.1},{"lang":"JavaScript","year":2011.75,"pct":1.6},{"lang":"JavaScript","year":2011.95,"pct":2.0},{"lang":"JavaScript","year":2012.15,"pct":1.8},{"lang":"JavaScript","year":2012.35,"pct":1.3},{"lang":"JavaScript","year":2012.6,"pct":1.2},{"lang":"JavaScript","year":2012.85,"pct":1.15},{"lang":"JavaScript","year":2013.05,"pct":1.35},{"lang":"JavaScript","year":2013.3,"pct":1.4},{"lang":"JavaScript","year":2013.55,"pct":1.5},{"lang":"JavaScript","year":2013.8,"pct":1.6},{"lang":"JavaScript","year":2014.0,"pct":1.4},{"lang":"JavaScript","year":2014.2,"pct":1.7},{"lang":"JavaScript","year":2014.45,"pct":1.8},{"lang":"JavaScript","year":2014.7,"pct":1.7},{"lang":"JavaScript","year":2014.9,"pct":2.2},{"lang":"JavaScript","year":2015.05,"pct":2.5},{"lang":"JavaScript","year":2015.25,"pct":2.1},{"lang":"JavaScript","year":2015.45,"pct":2.45},{"lang":"JavaScript","year":2015.65,"pct":2.3},{"lang":"JavaScript","year":2015.85,"pct":2.35},{"lang":"JavaScript","year":2016.05,"pct":2.5},{"lang":"JavaScript","year":2016.25,"pct":2.6},{"lang":"JavaScript","year":2016.45,"pct":2.7},{"lang":"JavaScript","year":2016.65,"pct":2.4},{"lang":"JavaScript","year":2016.85,"pct":2.6},{"lang":"JavaScript","year":2017.05,"pct":2.8},{"lang":"JavaScript","year":2017.25,"pct":2.6},{"lang":"JavaScript","year":2017.45,"pct":2.85},{"lang":"JavaScript","year":2017.65,"pct":2.7},{"lang":"JavaScript","year":2017.85,"pct":3.1},{"lang":"JavaScript","year":2018.0,"pct":3.0},{"lang":"JavaScript","year":2018.15,"pct":3.6},{"lang":"JavaScript","year":2018.3,"pct":2.6},{"lang":"JavaScript","year":2018.5,"pct":2.4},{"lang":"JavaScript","year":2018.7,"pct":2.9},{"lang":"JavaScript","year":2018.9,"pct":2.3},{"lang":"JavaScript","year":2019.1,"pct":2.1},{"lang":"JavaScript","year":2019.3,"pct":2.2},{"lang":"JavaScript","year":2019.5,"pct":2.0},{"lang":"JavaScript","year":2019.7,"pct":2.25},{"lang":"JavaScript","year":2019.9,"pct":2.3},{"lang":"JavaScript","year":2020.1,"pct":2.2},{"lang":"JavaScript","year":2020.3,"pct":2.0},{"lang":"JavaScript","year":2020.45,"pct":2.35},{"lang":"JavaScript","year":2020.6,"pct":2.3},{"lang":"JavaScript","year":2020.8,"pct":2.1},{"lang":"JavaScript","year":2021.0,"pct":2.3},{"lang":"JavaScript","year":2021.2,"pct":2.5},{"lang":"JavaScript","year":2021.4,"pct":2.35},{"lang":"JavaScript","year":2021.6,"pct":2.5},{"lang":"JavaScript","year":2021.8,"pct":2.2},{"lang":"JavaScript","year":2022.0,"pct":2.1},{"lang":"JavaScript","year":2022.2,"pct":2.35},{"lang":"JavaScript","year":2022.4,"pct":2.6},{"lang":"JavaScript","year":2022.6,"pct":2.85},{"lang":"JavaScript","year":2022.8,"pct":2.55},{"lang":"JavaScript","year":2022.95,"pct":2.3},{"lang":"JavaScript","year":2023.1,"pct":2.6},{"lang":"JavaScript","year":2023.3,"pct":2.55},{"lang":"JavaScript","year":2023.5,"pct":2.95},{"lang":"JavaScript","year":2023.7,"pct":3.1},{"lang":"JavaScript","year":2023.85,"pct":2.85},{"lang":"JavaScript","year":2024.0,"pct":3.15},{"lang":"JavaScript","year":2024.15,"pct":2.95},{"lang":"JavaScript","year":2024.3,"pct":3.1},{"lang":"JavaScript","year":2024.43,"pct":3.35},
{"lang":"Go","year":2009.95,"pct":1.0},{"lang":"Go","year":2010.03,"pct":1.85},{"lang":"Go","year":2010.12,"pct":0.8},{"lang":"Go","year":2010.3,"pct":0.6},{"lang":"Go","year":2010.5,"pct":0.55},{"lang":"Go","year":2010.7,"pct":0.5},{"lang":"Go","year":2010.9,"pct":0.55},{"lang":"Go","year":2011.1,"pct":0.6},{"lang":"Go","year":2011.2,"pct":0.9},{"lang":"Go","year":2011.3,"pct":0.6},{"lang":"Go","year":2011.5,"pct":0.5},{"lang":"Go","year":2011.8,"pct":0.45},{"lang":"Go","year":2012.2,"pct":0.45},{"lang":"Go","year":2012.6,"pct":0.4},{"lang":"Go","year":2013.0,"pct":0.4},{"lang":"Go","year":2013.5,"pct":0.35},{"lang":"Go","year":2014.0,"pct":0.35},{"lang":"Go","year":2014.5,"pct":0.3},{"lang":"Go","year":2015.0,"pct":0.3},{"lang":"Go","year":2015.5,"pct":0.35},{"lang":"Go","year":2016.0,"pct":0.3},{"lang":"Go","year":2016.45,"pct":0.3},{"lang":"Go","year":2016.55,"pct":0.6},{"lang":"Go","year":2016.63,"pct":1.6},{"lang":"Go","year":2016.75,"pct":1.55},{"lang":"Go","year":2017.0,"pct":1.7},{"lang":"Go","year":2017.3,"pct":1.6},{"lang":"Go","year":2017.6,"pct":1.5},{"lang":"Go","year":2017.9,"pct":1.45},{"lang":"Go","year":2018.2,"pct":1.5},{"lang":"Go","year":2018.5,"pct":1.3},{"lang":"Go","year":2018.8,"pct":1.1},{"lang":"Go","year":2019.1,"pct":1.0},{"lang":"Go","year":2019.4,"pct":0.95},{"lang":"Go","year":2019.7,"pct":0.9},{"lang":"Go","year":2020.0,"pct":1.0},{"lang":"Go","year":2020.3,"pct":1.2},{"lang":"Go","year":2020.6,"pct":1.4},{"lang":"Go","year":2020.9,"pct":1.3},{"lang":"Go","year":2021.2,"pct":1.15},{"lang":"Go","year":2021.5,"pct":1.2},{"lang":"Go","year":2021.8,"pct":1.25},{"lang":"Go","year":2022.1,"pct":1.3},{"lang":"Go","year":2022.4,"pct":1.2},{"lang":"Go","year":2022.7,"pct":1.15},{"lang":"Go","year":2023.0,"pct":1.25},{"lang":"Go","year":2023.3,"pct":1.3},{"lang":"Go","year":2023.6,"pct":1.2},{"lang":"Go","year":2023.9,"pct":1.35},{"lang":"Go","year":2024.2,"pct":1.6},{"lang":"Go","year":2024.43,"pct":1.9},
{"lang":"SQL","year":2001.49,"pct":2.95},{"lang":"SQL","year":2001.7,"pct":2.3},{"lang":"SQL","year":2001.98,"pct":1.65},{"lang":"SQL","year":2002.2,"pct":1.8},{"lang":"SQL","year":2002.37,"pct":1.9},{"lang":"SQL","year":2002.65,"pct":2.45},{"lang":"SQL","year":2002.93,"pct":2.55},{"lang":"SQL","year":2003.15,"pct":2.7},{"lang":"SQL","year":2003.37,"pct":3.1},{"lang":"SQL","year":2003.65,"pct":3.45},{"lang":"SQL","year":2003.81,"pct":3.7},{"lang":"SQL","year":2003.92,"pct":3.1},{"lang":"SQL","year":2004.03,"pct":3.45},{"lang":"SQL","year":2004.2,"pct":3.1},{"lang":"SQL","year":2004.3,"pct":2.45},{"lang":"SQL","year":2018.0,"pct":2.45},{"lang":"SQL","year":2018.2,"pct":2.3},{"lang":"SQL","year":2018.4,"pct":2.1},{"lang":"SQL","year":2018.6,"pct":2.0},{"lang":"SQL","year":2018.8,"pct":1.85},{"lang":"SQL","year":2019.0,"pct":1.7},{"lang":"SQL","year":2019.2,"pct":1.5},{"lang":"SQL","year":2019.4,"pct":1.7},{"lang":"SQL","year":2019.6,"pct":1.55},{"lang":"SQL","year":2019.8,"pct":1.45},{"lang":"SQL","year":2020.0,"pct":1.35},{"lang":"SQL","year":2020.2,"pct":1.1},{"lang":"SQL","year":2020.4,"pct":1.6},{"lang":"SQL","year":2020.6,"pct":1.9},{"lang":"SQL","year":2020.8,"pct":1.95},{"lang":"SQL","year":2021.0,"pct":1.8},{"lang":"SQL","year":2021.2,"pct":1.7},{"lang":"SQL","year":2021.4,"pct":2.2},{"lang":"SQL","year":2021.6,"pct":1.9},{"lang":"SQL","year":2021.8,"pct":1.85},{"lang":"SQL","year":2022.0,"pct":2.0},{"lang":"SQL","year":2022.2,"pct":2.1},{"lang":"SQL","year":2022.4,"pct":2.3},{"lang":"SQL","year":2022.6,"pct":2.6},{"lang":"SQL","year":2022.8,"pct":2.2},{"lang":"SQL","year":2023.0,"pct":2.0},{"lang":"SQL","year":2023.2,"pct":1.7},{"lang":"SQL","year":2023.4,"pct":1.5},{"lang":"SQL","year":2023.6,"pct":1.55},{"lang":"SQL","year":2023.8,"pct":1.6},{"lang":"SQL","year":2024.0,"pct":1.55},{"lang":"SQL","year":2024.2,"pct":1.7},{"lang":"SQL","year":2024.43,"pct":1.65},
{"lang":"Visual Basic","year":2010.6,"pct":0.3},{"lang":"Visual Basic","year":2010.8,"pct":0.35},{"lang":"Visual Basic","year":2011.0,"pct":0.4},{"lang":"Visual Basic","year":2011.3,"pct":0.4},{"lang":"Visual Basic","year":2011.6,"pct":0.45},{"lang":"Visual Basic","year":2012.0,"pct":0.5},{"lang":"Visual Basic","year":2012.3,"pct":0.8},{"lang":"Visual Basic","year":2012.6,"pct":1.0},{"lang":"Visual Basic","year":2012.9,"pct":1.2},{"lang":"Visual Basic","year":2013.2,"pct":1.4},{"lang":"Visual Basic","year":2013.5,"pct":1.3},{"lang":"Visual Basic","year":2013.8,"pct":1.5},{"lang":"Visual Basic","year":2014.1,"pct":1.4},{"lang":"Visual Basic","year":2014.4,"pct":1.8},{"lang":"Visual Basic","year":2014.7,"pct":1.6},{"lang":"Visual Basic","year":2015.0,"pct":1.9},{"lang":"Visual Basic","year":2015.3,"pct":1.7},{"lang":"Visual Basic","year":2015.6,"pct":1.9},{"lang":"Visual Basic","year":2015.9,"pct":2.1},{"lang":"Visual Basic","year":2016.2,"pct":1.9},{"lang":"Visual Basic","year":2016.5,"pct":1.8},{"lang":"Visual Basic","year":2016.8,"pct":2.0},{"lang":"Visual Basic","year":2017.1,"pct":1.75},{"lang":"Visual Basic","year":2017.4,"pct":1.8},{"lang":"Visual Basic","year":2017.7,"pct":1.6},{"lang":"Visual Basic","year":2018.0,"pct":1.65},{"lang":"Visual Basic","year":2018.3,"pct":1.5},{"lang":"Visual Basic","year":2018.6,"pct":1.55},{"lang":"Visual Basic","year":2018.9,"pct":1.3},{"lang":"Visual Basic","year":2019.2,"pct":1.2},{"lang":"Visual Basic","year":2019.5,"pct":1.1},{"lang":"Visual Basic","year":2019.8,"pct":0.9},{"lang":"Visual Basic","year":2020.1,"pct":0.8},{"lang":"Visual Basic","year":2020.2,"pct":0.9},{"lang":"Visual Basic","year":2020.28,"pct":4.1},{"lang":"Visual Basic","year":2020.4,"pct":4.6},{"lang":"Visual Basic","year":2020.5,"pct":4.35},{"lang":"Visual Basic","year":2020.65,"pct":4.5},{"lang":"Visual Basic","year":2020.8,"pct":4.1},{"lang":"Visual Basic","year":2021.0,"pct":4.6},{"lang":"Visual Basic","year":2021.15,"pct":4.85},{"lang":"Visual Basic","year":2021.35,"pct":4.75},{"lang":"Visual Basic","year":2021.55,"pct":4.9},{"lang":"Visual Basic","year":2021.75,"pct":5.4},{"lang":"Visual Basic","year":2021.9,"pct":5.85},{"lang":"Visual Basic","year":2022.05,"pct":5.4},{"lang":"Visual Basic","year":2022.25,"pct":5.9},{"lang":"Visual Basic","year":2022.45,"pct":5.25},{"lang":"Visual Basic","year":2022.65,"pct":4.6},{"lang":"Visual Basic","year":2022.85,"pct":4.1},{"lang":"Visual Basic","year":2023.0,"pct":4.85},{"lang":"Visual Basic","year":2023.2,"pct":3.85},{"lang":"Visual Basic","year":2023.4,"pct":2.6},{"lang":"Visual Basic","year":2023.6,"pct":2.1},{"lang":"Visual Basic","year":2023.8,"pct":1.95},{"lang":"Visual Basic","year":2024.0,"pct":1.8},{"lang":"Visual Basic","year":2024.2,"pct":1.85},{"lang":"Visual Basic","year":2024.43,"pct":1.95},
{"lang":"Fortran","year":2001.49,"pct":0.65},{"lang":"Fortran","year":2002.0,"pct":0.6},{"lang":"Fortran","year":2002.5,"pct":0.65},{"lang":"Fortran","year":2003.0,"pct":0.7},{"lang":"Fortran","year":2003.5,"pct":0.75},{"lang":"Fortran","year":2004.0,"pct":0.7},{"lang":"Fortran","year":2004.5,"pct":0.45},{"lang":"Fortran","year":2005.0,"pct":0.5},{"lang":"Fortran","year":2005.3,"pct":0.85},{"lang":"Fortran","year":2005.6,"pct":0.6},{"lang":"Fortran","year":2006.0,"pct":0.55},{"lang":"Fortran","year":2006.5,"pct":0.5},{"lang":"Fortran","year":2007.0,"pct":0.5},{"lang":"Fortran","year":2007.5,"pct":0.55},{"lang":"Fortran","year":2008.0,"pct":0.6},{"lang":"Fortran","year":2008.3,"pct":0.45},{"lang":"Fortran","year":2009.0,"pct":0.45},{"lang":"Fortran","year":2010.0,"pct":0.4},{"lang":"Fortran","year":2011.0,"pct":0.4},{"lang":"Fortran","year":2012.0,"pct":0.35},{"lang":"Fortran","year":2013.0,"pct":0.3},{"lang":"Fortran","year":2014.0,"pct":0.3},{"lang":"Fortran","year":2015.0,"pct":0.35},{"lang":"Fortran","year":2016.0,"pct":0.3},{"lang":"Fortran","year":2016.8,"pct":0.35},{"lang":"Fortran","year":2017.5,"pct":0.4},{"lang":"Fortran","year":2018.0,"pct":0.5},{"lang":"Fortran","year":2018.5,"pct":0.35},{"lang":"Fortran","year":2019.0,"pct":0.4},{"lang":"Fortran","year":2019.5,"pct":0.3},{"lang":"Fortran","year":2020.0,"pct":0.35},{"lang":"Fortran","year":2020.3,"pct":0.6},{"lang":"Fortran","year":2020.6,"pct":0.5},{"lang":"Fortran","year":2021.0,"pct":0.7},{"lang":"Fortran","year":2021.5,"pct":0.6},{"lang":"Fortran","year":2022.0,"pct":0.7},{"lang":"Fortran","year":2022.5,"pct":0.65},{"lang":"Fortran","year":2023.0,"pct":0.8},{"lang":"Fortran","year":2023.5,"pct":1.1},{"lang":"Fortran","year":2023.8,"pct":1.2},{"lang":"Fortran","year":2024.0,"pct":1.35},{"lang":"Fortran","year":2024.2,"pct":1.5},{"lang":"Fortran","year":2024.43,"pct":1.7}
]
},
"encoding": {
  "x": {"field": "year", "type": "quantitative", "title": null,
        "scale": {"domain": [2001.27, 2024.64], "nice": false, "zero": false},
        "axis": {"values": [2002,2004,2006,2008,2010,2012,2014,2016,2018,2020,2022,2024], "format": "d", "grid": false, "domainColor": "#333333", "domainWidth": 1, "tickColor": "#333333", "tickSize": 15, "tickWidth": 1, "labelFontSize": 17, "labelColor": "#333333", "labelPadding": 7, "labelFlush": false, "labelFont": "Liberation Sans"}},
  "y": {"field": "pct", "type": "quantitative", "title": "Ratings (%)",
        "scale": {"domain": [0, 30], "nice": false},
        "axis": {"values": [0,5,10,15,20,25,30], "grid": true, "gridColor": "#e6e6e6", "gridWidth": 1, "domain": false, "ticks": false, "labelFontSize": 18, "labelColor": "#333333", "labelPadding": 21, "labelFont": "Liberation Sans", "titleFont": "Liberation Sans", "titleFontSize": 18, "titleFontWeight": "normal", "titleColor": "#666666", "titlePadding": 11}},
  "color": {"field": "lang", "type": "nominal",
        "scale": {"domain": ["Python","C++","C","Java","C#","JavaScript","Go","SQL","Visual Basic","Fortran"], "range": ["#2caffe","#544fc5","#00e272","#fe6a35","#6b8abc","#d568fb","#2ee0ca","#fa4b42","#feb56a","#91e8e1"]},
        "legend": {"title": null, "orient": "none", "direction": "horizontal", "legendX": 195, "legendY": 466, "symbolType": "stroke", "symbolSize": 196, "symbolStrokeWidth": 8, "symbolOpacity": 1, "labelFontSize": 18, "labelColor": "#333333", "labelFont": "Liberation Sans", "columnPadding": 15, "labelOffset": 10, "encode": {"symbols": {"update": {"strokeCap": {"value": "round"}}}}}}
},
"layer": [
  {"data": {"name": "python"}, "mark": {"type": "line", "strokeWidth": 6, "strokeCap": "round", "strokeJoin": "round", "opacity": 1}},
  {"data": {"name": "others"}, "mark": {"type": "line", "strokeWidth": 5, "strokeCap": "round", "strokeJoin": "round", "opacity": 0.2}}
]
}
